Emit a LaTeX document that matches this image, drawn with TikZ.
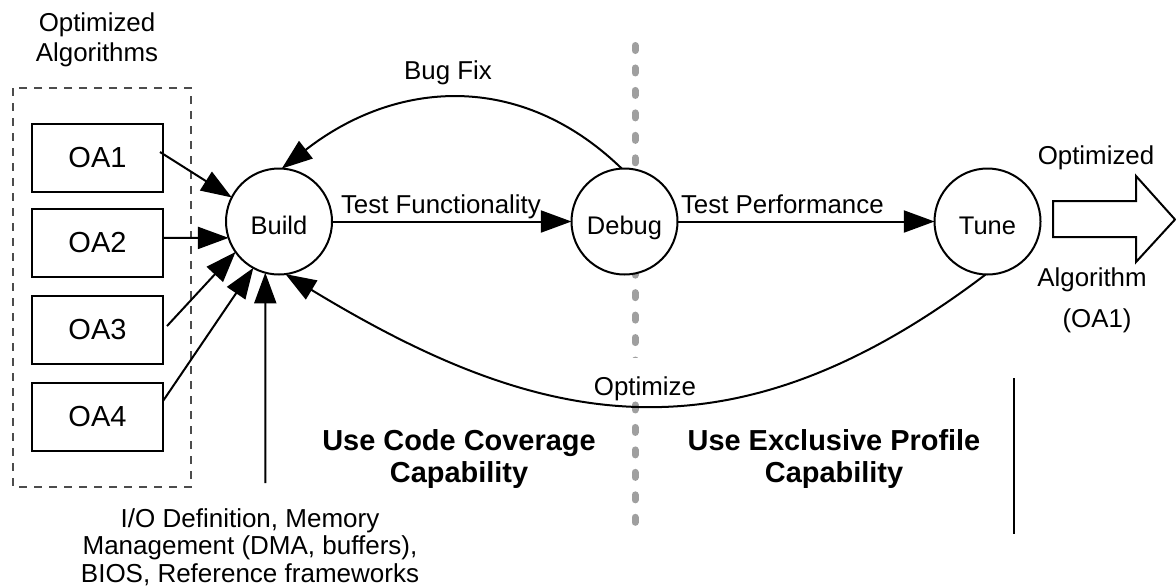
\documentclass[tikz,border=0pt]{standalone}
\usepackage{fontspec}
\setmainfont{Liberation Sans}
\usetikzlibrary{arrows.meta}
\begin{document}
\begin{tikzpicture}[x=0.75pt,y=-0.75pt,
  line width=1.5pt,
  tip/.style={-{Triangle[length=23pt,width=16.5pt]}},
  stage/.style={circle,draw,fill=white,minimum size=79.5pt,inner sep=0pt,outer sep=0pt,
    font=\fontsize{19.1}{23}\selectfont,text height=19.6pt,text depth=0pt},
  oabox/.style={rectangle,draw,minimum width=98.25pt,minimum height=51pt,inner sep=0pt,
    outer sep=0pt,font=\fontsize{21.75}{26}\selectfont},
  lbl/.style={inner sep=0pt,font=\fontsize{19.4}{23}\selectfont},
  boldlbl/.style={inner sep=0pt,align=center,font=\fontsize{21.7}{24}\selectfont\bfseries},
  divider/.style={draw=gray!75,line width=5.25pt,line cap=round,
    dash pattern=on 3.75pt off 13.1pt},
  groupbox/.style={draw=black!70,line width=1pt,dash pattern=on 6pt off 5.25pt},
]
\useasboundingbox (0,0) rectangle (1176,586);

% grey dotted divider
\coordinate (divtop) at (635,45.5);
\coordinate (divbot) at (635,522.5);
\draw[divider] (divtop) -- (divbot);

% dashed group box
\draw[groupbox] (13,88) rectangle (191,487);
\node[lbl,align=center,font=\fontsize{19.4}{22.5}\selectfont] (grouptitle) at (97,40) {Optimized\\Algorithms};

% OA boxes
\node[oabox] (oa1) at (97.5,158) {OA1};
\node[oabox] (oa2) at (97.5,242.5) {OA2};
\node[oabox] (oa3) at (97.5,329.5) {OA3};
\node[oabox] (oa4) at (97.5,417) {OA4};

% stages
\node[stage] (build) at (279,221.5) {Build};
\node[stage] (debug) at (624.5,221.5) {Debug};
\node[stage] (tune) at (987.5,221.5) {Tune};

% inputs to Build
\draw[tip] ([xshift=-2.25pt,yshift=4.5pt]oa1.east) -- (build.153);
\draw[tip] ([yshift=3.4pt]oa2.east) -- (build.198);
\draw[tip] ([xshift=3pt,yshift=2.6pt]oa3.east) -- (build.215);
\draw[tip] ([yshift=12pt]oa4.east) -- (build.241);
\coordinate (iosrc) at (265.3,483);
\draw[tip] (iosrc) -- (build.255);

% main flow
\draw[tip] (build) -- (debug);
\node[lbl,anchor=base west] (testfunc) at (340,213) {Test Functionality};
\draw[tip] (debug) -- (tune);
\node[lbl,anchor=base west] (testperf) at (680,213) {Test Performance};

% bug fix loop
\draw[tip] (debug.93) .. controls (520,70) and (395,80) .. (build.87);
\node[lbl] (bugfix) at (448,73) {Bug Fix};

% optimize loop
\node[lbl,fill=white,inner xsep=1pt,text height=28pt,text depth=4pt,anchor=base] (optlbl) at (645,395) {Optimize};
\draw[tip] (tune.268) .. controls (726,471.5) and (535,425.5) .. (build.277);

% output arrow
\draw[line join=miter] (1053,201) -- (1136,201) -- (1136,176) -- (1175,219.5) -- (1136,262) -- (1136,237) -- (1053,237) -- cycle;
\node[lbl] (outtop) at (1096,158) {Optimized};
\node[lbl] (outmid) at (1092,280) {Algorithm};
\node[lbl] (outbot) at (1097,321) {(OA1)};

% region texts
\node[boldlbl] (coverage) at (459,459) {Use Code Coverage\\Capability};
\node[boldlbl] (exclusive) at (834,459) {Use Exclusive Profile\\Capability};

% right vertical line
\coordinate (vtop) at (1014,378);
\coordinate (vbot) at (1014,534);
\draw (vtop) -- (vbot);

% bottom text
\node[lbl,align=center,font=\fontsize{19.5}{20.6}\selectfont] (iotext) at (250,547)
  {I/O Definition, Memory\\Management (DMA, buffers),\\BIOS, Reference frameworks};
\end{tikzpicture}
\end{document}
